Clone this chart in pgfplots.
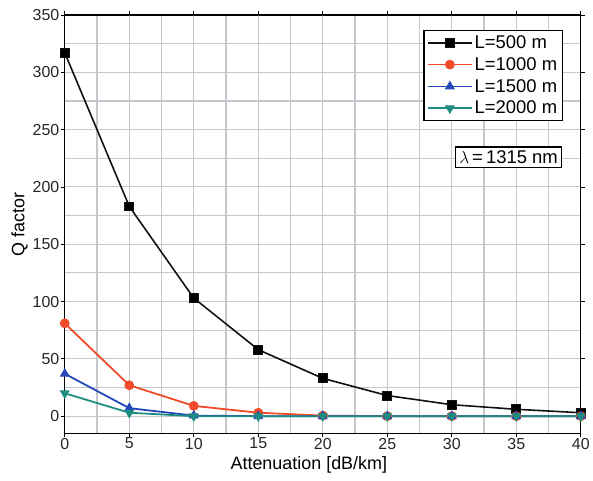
\documentclass[border=0pt]{standalone}
\usepackage{pgfplots}
\pgfplotsset{compat=1.18}
\usepackage{fontspec}
\setmainfont{Liberation Sans}
\definecolor{cBlack}{HTML}{111111}
\definecolor{cRed}{HTML}{F04A2A}
\definecolor{cBlue}{HTML}{2448B8}
\definecolor{cTeal}{HTML}{1E8C80}
\definecolor{gridc}{HTML}{C4C8CC}
\begin{document}
\begin{tikzpicture}
\begin{axis}[
  at={(0,0)}, anchor=south west,
  scale only axis, width=518pt, height=420pt,
  xmin=0, xmax=40, ymin=-15, ymax=350,
  xtick={0,5,...,40}, ytick={0,50,...,350},
  minor x tick num=1, minor y tick num=1,
  grid=both,
  major grid style={gridc, line width=1.2pt},
  minor grid style={gridc, line width=1.2pt},
  axis line style={black, line width=1.2pt},
  tick align=outside, major tick length=4pt, minor tick length=0pt,
  tick style={black, line width=0.8pt},
  /pgf/number format/assume math mode=true,
  ticklabel style={font=\fontsize{16}{18}\selectfont, text=black!85},
  xticklabel style={yshift=3pt},
  yticklabel style={xshift=2pt},
  xlabel={Attenuation [dB/km]},
  ylabel={Q factor},
  label style={font=\fontsize{18}{20}\selectfont},
  xlabel style={yshift=0pt, xshift=-14pt},
  ylabel style={yshift=-2pt},
  legend style={at={(0.965,0.964)}, anchor=north east, draw=black, line width=1.2pt,
    font=\fontsize{18.5}{20}\selectfont, fill=white, inner sep=3pt, row sep=3.5pt,
    cells={anchor=west}},
  legend image code/.code={%
    \draw[line width=1.8pt, mark repeat=2,mark phase=2] plot coordinates {(0pt,0pt) (22pt,0pt) (44pt,0pt)};},
  legend cell align=left,
]
\addplot[cBlack, line width=1.6pt, mark=square*, mark size=4.5pt, mark options={solid, fill=black, line width=0.8pt}] coordinates {
(0,317) (5,183) (10,103) (15,58) (20,33) (25,18) (30,10) (35,6) (40,3)};
\addlegendentry{L=500 m}
\addplot[cRed, line width=1.8pt, mark=*, mark size=4.5pt, mark options={solid, fill=cRed, line width=0.8pt}] coordinates {
(0,81) (5,27) (10,9) (15,3) (20,0.5) (25,0) (30,0) (35,0) (40,0)};
\addlegendentry{L=1000 m}
\addplot[cBlue, line width=1.8pt, mark=triangle*, mark size=5pt, mark options={solid, fill=cBlue, line width=0.8pt}] coordinates {
(0,37) (5,7) (10,0.5) (15,0) (20,0) (25,0) (30,0) (35,0) (40,0)};
\addlegendentry{L=1500 m}
\addplot[cTeal, line width=1.8pt, mark=triangle*, mark size=5pt, mark options={solid, fill=cTeal, rotate=180, line width=0.8pt}] coordinates {
(0,20) (5,3) (10,0) (15,0) (20,0) (25,0) (30,0) (35,0) (40,0)};
\addlegendentry{L=2000 m}
\node[draw=black, line width=1.2pt, fill=white, inner xsep=4pt, inner ysep=3.5pt, font=\fontsize{18.5}{20}\selectfont] at (axis cs:34.4,226) {$\lambda$\,=\,1315 nm};
\end{axis}
\path (-65pt,-47pt) rectangle (528pt,435pt);
\end{tikzpicture}
\end{document}
